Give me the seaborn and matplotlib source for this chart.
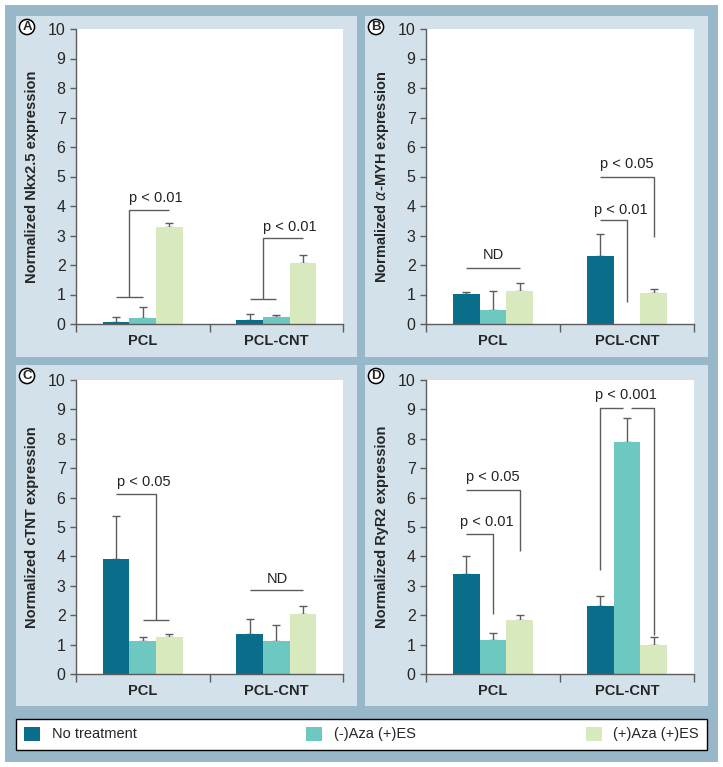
import matplotlib
matplotlib.use("Agg")
import matplotlib.pyplot as plt
from matplotlib.patches import Rectangle
import pandas as pd
import seaborn as sns

# --- data ---
groups = ["PCL", "PCL-CNT"]
treatments = ["No treatment", "(-)Aza (+)ES", "(+)Aza (+)ES"]
colors = ["#0a6e8b", "#6cc8c1", "#d8e9bd"]

# mean values per group, per treatment
nkx25_mean = [[0.07, 0.20, 3.30], [0.13, 0.24, 2.07]]
nkx25_sd = [[0.18, 0.36, 0.14], [0.22, 0.05, 0.26]]
myh_mean = [[1.03, 0.48, 1.11], [2.31, 0.0, 1.05]]
myh_sd = [[0.04, 0.63, 0.29], [0.73, 0.0, 0.13]]
ctnt_mean = [[3.90, 1.13, 1.25], [1.36, 1.13, 2.05]]
ctnt_sd = [[1.46, 0.12, 0.11], [0.51, 0.52, 0.26]]
ryr2_mean = [[3.40, 1.15, 1.82], [2.32, 7.88, 1.00]]
ryr2_sd = [[0.63, 0.25, 0.20], [0.34, 0.84, 0.25]]

ylabels = [
    "Normalized Nkx2.5 expression",
    r"Normalized $\alpha$-MYH expression",
    "Normalized cTNT expression",
    "Normalized RyR2 expression",
]
letters = ["A", "B", "C", "D"]

# significance brackets: polylines given as (group, bar slot, y); slot 0..2, fractional = between bars
brackets = [
    [  # A
        [(0, 0, 0.92), (0, 1, 0.92)],
        [(0, 0.5, 0.92), (0, 0.5, 3.85), (0, 2, 3.85)],
        [(1, 0, 0.85), (1, 1, 0.85)],
        [(1, 0.5, 0.85), (1, 0.5, 2.92), (1, 2, 2.92)],
    ],
    [  # B
        [(0, 0, 1.91), (0, 2, 1.91)],
        [(1, 0, 3.53), (1, 1, 3.53), (1, 1, 0.76)],
        [(1, 0, 5.0), (1, 2, 5.0), (1, 2, 2.94)],
    ],
    [  # C
        [(0, 0, 6.12), (0, 1.5, 6.12), (0, 1.5, 1.85)],
        [(0, 1, 1.85), (0, 2, 1.85)],
        [(1, 0, 2.85), (1, 2, 2.85)],
    ],
    [  # D
        [(0, 0, 4.76), (0, 1, 4.76), (0, 1, 2.04)],
        [(0, 0, 6.26), (0, 2, 6.26), (0, 2, 4.19)],
        [(1, 0, 3.54), (1, 0, 9.06), (1, 0.85, 9.06)],
        [(1, 1.15, 9.06), (1, 2, 9.06), (1, 2, 1.34)],
    ],
]
# (group, slot, baseline y, text)
labels_sig = [
    [(0, 1.48, 4.12, "p < 0.01"), (1, 1.5, 3.16, "p < 0.01")],
    [(0, 1.0, 2.2, "ND"), (1, 0.78, 3.74, "p < 0.01"), (1, 1.0, 5.3, "p < 0.05")],
    [(0, 1.05, 6.4, "p < 0.05"), (1, 1.05, 3.08, "ND")],
    [(0, 0.78, 5.05, "p < 0.01"), (0, 1.0, 6.58, "p < 0.05"), (1, 0.95, 9.36, "p < 0.001")],
]

BAR_W = 0.2


def slot_x(g, s):
    return g + (s - 1) * BAR_W


def make_frame(mean, sd):
    rows = []
    for gi, g in enumerate(groups):
        for ti, t in enumerate(treatments):
            rows.append({"group": g, "treatment": t, "value": mean[gi][ti], "sd": sd[gi][ti]})
    return pd.DataFrame(rows)


panels = [
    make_frame(nkx25_mean, nkx25_sd),
    make_frame(myh_mean, myh_sd),
    make_frame(ctnt_mean, ctnt_sd),
    make_frame(ryr2_mean, ryr2_sd),
]

sns.set_style("ticks")
plt.rcParams["font.family"] = ["Liberation Sans", "DejaVu Sans"]

W, H = 723, 767
fig = plt.figure(figsize=(W / 100, H / 100), dpi=100, facecolor="white")


def px_rect(l, t, r, b):
    return [l / W, 1 - b / H, (r - l) / W, (b - t) / H]


def add_box(l, t, r, b, color, z):
    x, y, w, h = px_rect(l, t, r, b)
    fig.patches.append(Rectangle((x, y), w, h, transform=fig.transFigure,
                                 facecolor=color, edgecolor="none", zorder=z))


OUTER = "#98b8ca"
PANEL = "#d3e1ea"
add_box(5, 5, 718, 762, OUTER, -3)
panel_px = [(16, 16, 357, 357), (365, 16, 708, 357), (16, 365, 357, 706), (365, 365, 708, 706)]
for p in panel_px:
    add_box(*p, PANEL, -2)

axes_px = [(76, 29, 343, 324), (426, 29, 694, 324), (76, 380, 343, 674), (426, 380, 694, 674)]

GRAY = "#5c5c5c"
handles = labels = None
for i, df in enumerate(panels):
    ax = fig.add_axes(px_rect(*axes_px[i]))
    ax.set_facecolor("white")
    sns.barplot(data=df, x="group", y="value", hue="treatment", order=groups,
                hue_order=treatments, palette=colors, width=0.6, saturation=1,
                errorbar=None, linewidth=0, ax=ax, legend=(i == 0), zorder=2)
    if i == 0:
        handles, labels = ax.get_legend_handles_labels()
        ax.get_legend().remove()

    # one-sided error bars
    bar_conts = list(ax.containers)
    for ti, cont in enumerate(bar_conts):
        for gi, bar in enumerate(cont):
            sd = df[(df.group == groups[gi]) & (df.treatment == treatments[ti])]["sd"].iloc[0]
            if sd <= 0:
                continue
            x = bar.get_x() + bar.get_width() / 2
            ax.errorbar(x, bar.get_height(), yerr=[[0], [sd]], fmt="none", ecolor=GRAY,
                        elinewidth=1.0, capsize=2.6, capthick=1.0, zorder=1)

    for line in brackets[i]:
        xs = [slot_x(g, s) for g, s, _ in line]
        ys = [y for _, _, y in line]
        ax.plot(xs, ys, color=GRAY, lw=1.0, solid_capstyle="butt", zorder=3)
    for g, s, y, txt in labels_sig[i]:
        ax.text(slot_x(g, s), y, txt, ha="center", va="baseline", fontsize=10.5, color="#222222")

    ax.set_xlim(-0.5, 1.5)
    ax.set_ylim(0, 10)
    ax.set_yticks(range(0, 11))
    ax.set_xticks([0, 1])
    ax.set_xticklabels(groups, fontweight="bold", fontsize=10.5)
    ax.set_xticks([-0.5, 0.5, 1.5], minor=True)
    ax.tick_params(axis="x", which="major", length=0, pad=7)
    ax.tick_params(axis="x", which="minor", length=5.5, width=1, color=GRAY)
    ax.tick_params(axis="y", length=4.5, width=1, color=GRAY, labelsize=11.5, pad=3)
    ax.set_xlabel("")
    ax.set_ylabel(ylabels[i], fontweight="bold", fontsize=10.5, va="center")
    ax.yaxis.set_label_coords(-44 / 267, 0.5)
    for sp in ["top", "right"]:
        ax.spines[sp].set_visible(False)
    for sp in ["left", "bottom"]:
        ax.spines[sp].set_color(GRAY)
        ax.spines[sp].set_linewidth(1)

    l, t = panel_px[i][0], panel_px[i][1]
    fig.text((l + 11) / W, 1 - (t + 11) / H, letters[i], ha="center", va="center",
             fontsize=9.5, fontweight="bold",
             bbox=dict(boxstyle="circle,pad=0.12", fc="white", ec="black", lw=1.1))

lb = px_rect(16, 717, 707, 751)
leg = fig.legend(handles, labels, loc="center", bbox_to_anchor=(lb[0], lb[1], lb[2], lb[3]),
                 mode="expand", ncol=3, frameon=True, fancybox=False, fontsize=10.5,
                 handlelength=1.1, handleheight=1.1, handletextpad=0.8, borderpad=0.55,
                 borderaxespad=0)
leg.get_frame().set_edgecolor("black")
leg.get_frame().set_linewidth(1)
leg.get_frame().set_facecolor("white")
leg.get_frame().set_alpha(1)

fig.savefig("out.png", dpi=100)
